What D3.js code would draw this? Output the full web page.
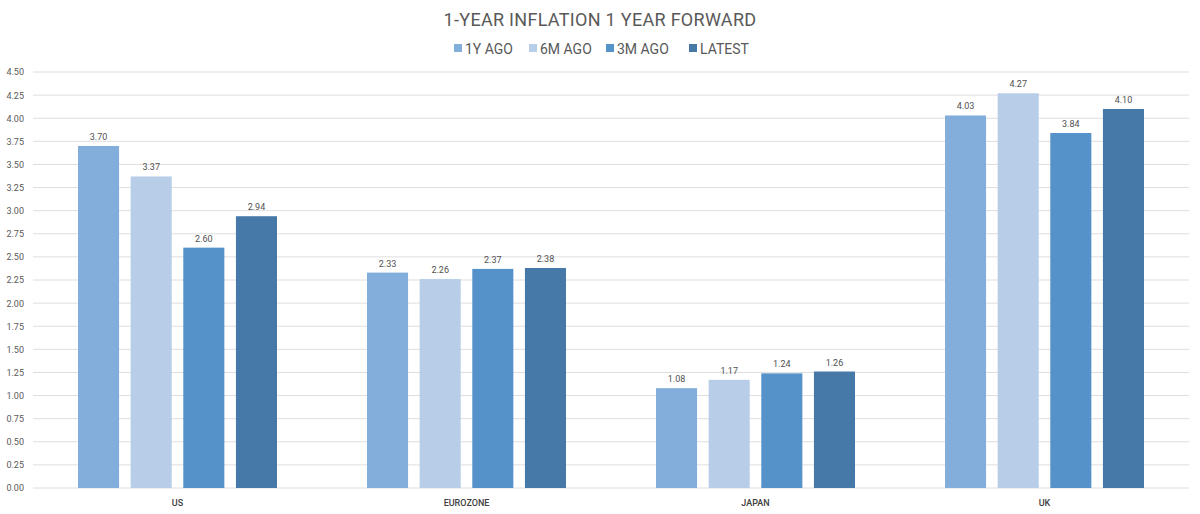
<!DOCTYPE html>
<html><head><meta charset="utf-8">
<script src="https://cdn.jsdelivr.net/npm/d3@7"></script>
<style>body{margin:0;background:#fff;} text{font-family:Roboto, "Open Sans", sans-serif;}</style>
</head><body><svg id="c" width="1200" height="514"></svg>
<script>
const categories = ["US", "EUROZONE", "JAPAN", "UK"];
const seriesNames = ["1Y AGO", "6M AGO", "3M AGO", "LATEST"];
const v1Y = [3.70, 2.33, 1.08, 4.03];
const v6M = [3.37, 2.26, 1.17, 4.27];
const v3M = [2.60, 2.37, 1.24, 3.84];
const vLatest = [2.94, 2.38, 1.26, 4.10];
const yTicks = [0,0.25,0.5,0.75,1,1.25,1.5,1.75,2,2.25,2.5,2.75,3,3.25,3.5,3.75,4,4.25,4.5];
const colors = ["#83AEDB", "#B7CDE8", "#5592C9", "#4678A8"];
const seriesVals = [v1Y, v6M, v3M, vLatest];

const svg = d3.select("#c");
const L = 33, R = 1189, T = 72, B = 488;
const GW = 199;
const x = d3.scaleBand().domain(categories).range([L, R]);
const y = d3.scaleLinear().domain([0, 4.5]).range([B, T]);
const xs = d3.scaleBand().domain(seriesNames).range([0, GW]).paddingInner(0.22).paddingOuter(0);

// grid
svg.append("g").selectAll("line").data(yTicks).join("line")
  .attr("x1", L).attr("x2", R).attr("y1", d => y(d)).attr("y2", d => y(d))
  .attr("stroke", "#dedede").attr("stroke-width", 1);

const yAxis = d3.axisLeft(y).tickValues(yTicks).tickFormat(d3.format(".2f")).tickSize(0).tickPadding(9);
const ya = svg.append("g").attr("transform", `translate(${L},0)`).call(yAxis);
ya.select(".domain").remove();
ya.selectAll("text").attr("font-size", 9).attr("fill", "#595959").style("font-family","Roboto, sans-serif");

const xAxis = d3.axisBottom(x).tickSize(0).tickPadding(12);
const xa = svg.append("g").attr("transform", `translate(0,${B})`).call(xAxis);
xa.select(".domain").remove();
xa.selectAll("text").attr("font-size", 9).attr("fill", "#404040").attr("font-weight", 500).style("font-family","Roboto, sans-serif");

const data = [];
categories.forEach((c, i) => seriesNames.forEach((s, j) => data.push({c, s, j, v: seriesVals[j][i]})));
const off = (x.bandwidth() - GW) / 2;
const g = svg.append("g");
g.selectAll("rect").data(data).join("rect")
  .attr("x", d => x(d.c) + off + xs(d.s))
  .attr("width", xs.bandwidth())
  .attr("y", d => y(d.v))
  .attr("height", d => B - y(d.v))
  .attr("fill", d => colors[d.j]);
g.selectAll("text").data(data).join("text")
  .attr("x", d => x(d.c) + off + xs(d.s) + xs.bandwidth()/2)
  .attr("y", d => y(d.v) - 6)
  .attr("text-anchor", "middle").attr("font-size", 9).attr("fill", "#505050")
  .text(d => d3.format(".2f")(d.v));

svg.append("text").attr("x", 600).attr("y", 26).attr("text-anchor", "middle")
  .attr("font-size", 18).attr("fill", "#595959").attr("letter-spacing", 0.3).text("1-YEAR INFLATION 1 YEAR FORWARD");

const legX = [454, 529, 606, 689];
const lg = svg.append("g");
seriesNames.forEach((s, j) => {
  lg.append("rect").attr("x", legX[j]).attr("y", 44).attr("width", 8).attr("height", 8).attr("fill", colors[j]);
  lg.append("text").attr("x", legX[j] + 11).attr("y", 54).attr("font-size", 14).attr("fill", "#595959").text(s);
});
</script></body></html>
